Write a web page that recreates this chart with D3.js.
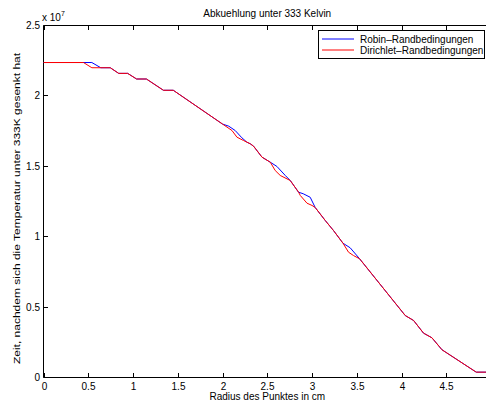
<!DOCTYPE html>
<html><head><meta charset="utf-8">
<script src="https://cdn.jsdelivr.net/npm/d3@7"></script>
<style>body{margin:0;background:#fff}svg{display:block}text{font-family:"Liberation Sans",Arial,sans-serif;fill:#000}</style>
</head><body>
<script>
// data (y in units of 1e7 s)
const robinX = [0,0.54,0.64,0.746,0.84,0.94,1.04,1.15,1.34,1.45,2.0,2.07,2.142,2.217,2.273,2.31,2.347,2.441,2.534,2.608,2.701,2.757,2.85,2.902,2.98,3.036,3.148,3.24,3.346,3.427,3.532,4.042,4.135,4.246,4.34,4.452,4.835,4.95];
const robinY = [2.237,2.237,2.2,2.2,2.16,2.16,2.12,2.12,2.04,2.04,1.80,1.785,1.754,1.702,1.671,1.66,1.643,1.565,1.529,1.499,1.435,1.399,1.316,1.305,1.28,1.207,1.115,1.044,0.954,0.921,0.843,0.44,0.405,0.315,0.282,0.197,0.038,0.038];
const dirX = [0,0.447,0.54,0.746,0.84,0.94,1.04,1.15,1.34,1.45,2.0,2.106,2.161,2.235,2.31,2.347,2.441,2.534,2.589,2.645,2.757,2.85,2.869,2.944,3.0,3.036,3.148,3.24,3.346,3.408,3.464,3.532,4.042,4.135,4.246,4.34,4.452,4.835,4.95];
const dirY = [2.237,2.237,2.2,2.2,2.16,2.16,2.12,2.12,2.04,2.04,1.80,1.754,1.707,1.683,1.66,1.643,1.565,1.529,1.47,1.435,1.399,1.316,1.293,1.238,1.222,1.207,1.115,1.044,0.954,0.89,0.866,0.843,0.44,0.405,0.315,0.282,0.197,0.038,0.038];
const xTicks = [0,0.5,1,1.5,2,2.5,3,3.5,4,4.5];
const yTicks = [0,0.5,1,1.5,2,2.5];
const seriesNames = ["Robin\u2013Randbedingungen","Dirichlet\u2013Randbedingungen"];
const seriesColors = ["#0000ff","#ff0000"];

const W=486,H=405;
const svg=d3.select("body").append("svg").attr("width",W).attr("height",H);
const x=d3.scaleLinear().domain([0,5]).range([43.5,491]);
const y=d3.scaleLinear().domain([0,2.5]).range([377.5,25.5]);
const fs=10;

// axes box
svg.append("line").attr("x1",x(0)).attr("x2",W+10).attr("y1",y(2.5)).attr("y2",y(2.5)).attr("stroke","#000");
svg.append("line").attr("x1",x(0)).attr("x2",W+10).attr("y1",y(0)).attr("y2",y(0)).attr("stroke","#000");
svg.append("line").attr("x1",x(0)).attr("x2",x(0)).attr("y1",y(0)).attr("y2",y(2.5)).attr("stroke","#000");

const tl=4.5;
xTicks.forEach(t=>{
  const px=Math.round(x(t))+0.5;
  svg.append("line").attr("x1",px).attr("x2",px).attr("y1",y(0)).attr("y2",y(0)-tl).attr("stroke","#000");
  svg.append("line").attr("x1",px).attr("x2",px).attr("y1",y(2.5)).attr("y2",y(2.5)+tl).attr("stroke","#000");
  svg.append("text").attr("x",px).attr("y",390).attr("text-anchor","middle").attr("font-size",fs).text(d3.format("")(t));
});
yTicks.forEach(t=>{
  const py=Math.round(y(t)-0.5)+0.5;
  svg.append("line").attr("x1",x(0)).attr("x2",x(0)+tl).attr("y1",py).attr("y2",py).attr("stroke","#000");
  svg.append("text").attr("x",40).attr("y",py+3.5).attr("text-anchor","end").attr("font-size",fs).text(t);
});

// multiplier
const m=svg.append("text").attr("x",42).attr("y",21).attr("font-size",fs);
m.append("tspan").text("x 10");
m.append("tspan").attr("dy",-5).attr("font-size",7).text("7");

// title & labels
svg.append("text").attr("x",(x(0)+x(5))/2).attr("y",17).attr("text-anchor","middle").attr("font-size",fs).text("Abkuehlung unter 333 Kelvin");
svg.append("text").attr("x",(x(0)+x(5))/2).attr("y",400).attr("text-anchor","middle").attr("font-size",fs).text("Radius des Punktes in cm");
svg.append("text").attr("transform","translate(19.5,"+((y(0)+y(2.5))/2+7)+") rotate(-90) scale(1,0.8)").attr("text-anchor","middle").attr("font-size",12).text("Zeit, nachdem sich die Temperatur unter 333K gesenkt hat");

// lines
const line=d3.line().x(d=>x(d[0])).y(d=>y(d[1]));
const series=[d3.zip(robinX,robinY),d3.zip(dirX,dirY)];
series.forEach((s,i)=>{
  svg.append("path").datum(s).attr("d",line).attr("fill","none").attr("stroke",seriesColors[i]).attr("stroke-width",1);
});

// legend
const lg=svg.append("g");
lg.append("rect").attr("x",318.5).attr("y",30.5).attr("width",166).attr("height",28).attr("fill","#fff").attr("stroke","#000");
seriesNames.forEach((n,i)=>{
  const cy=39+i*11;
  lg.append("line").attr("x1",322).attr("x2",354).attr("y1",cy).attr("y2",cy).attr("stroke",seriesColors[i]);
  lg.append("text").attr("x",360).attr("y",cy+3.5).attr("font-size",fs).text(n);
});
</script>
</body></html>
